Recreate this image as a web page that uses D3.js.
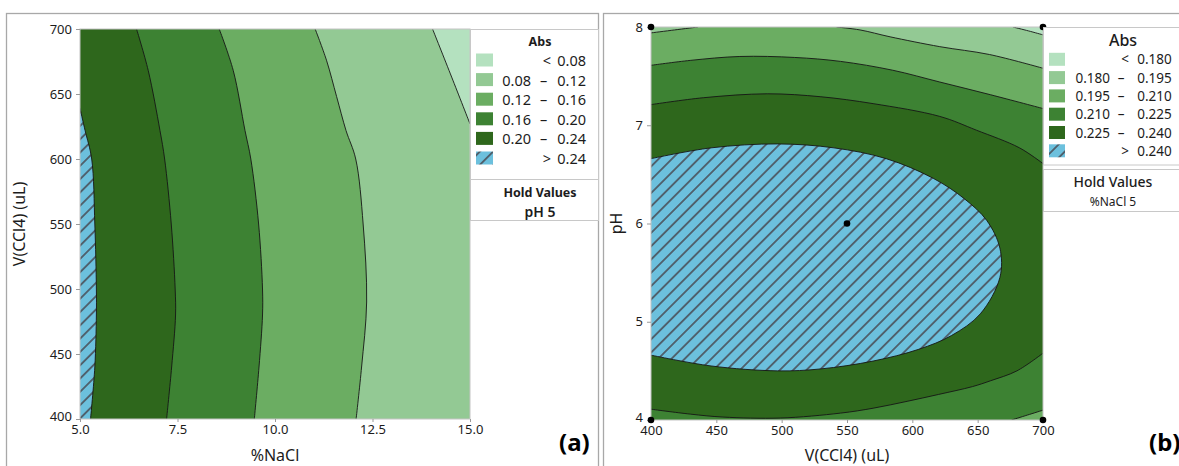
<!DOCTYPE html>
<html>
<head>
<meta charset="utf-8">
<script src="https://cdn.jsdelivr.net/npm/d3@7"></script>
<style>
  body { margin: 0; background: #fff; }
  svg text { font-family: "Noto Sans", sans-serif; fill: #1c1c1c; }
</style>
</head>
<body>
<svg id="chart" width="1179" height="466"></svg>
<script>
// band colours, lowest Abs band first, last one is the hatched top band
const bandColors = ["#b4e1bf", "#93c994", "#6bad62", "#3d8233", "#2e671c", "#6cc0dd"];

// ---- panel (a): %NaCl vs V(CCl4), pH held at 5
const aXDomain = [5, 15];
const aYDomain = [400, 700];
const aXTicks = [5, 7.5, 10, 12.5, 15];
const aYTicks = [400, 450, 500, 550, 600, 650, 700];
const aLevels = ["0.08", "0.12", "0.16", "0.20", "0.24"];
// contour lines [%NaCl, V] from top to bottom
const aC024 = [[5.0, 639], [5.13, 622], [5.30, 600], [5.38, 550], [5.42, 500], [5.42, 480], [5.38, 440], [5.27, 400]];
const aC020 = [[6.45, 700], [6.75, 668], [7.05, 622], [7.17, 600], [7.34, 550], [7.44, 500], [7.45, 480], [7.35, 440], [7.22, 400]];
const aC016 = [[8.57, 700], [8.93, 668], [9.23, 622], [9.38, 600], [9.58, 550], [9.68, 500], [9.68, 480], [9.59, 440], [9.47, 400]];
const aC012 = [[11.03, 700], [11.32, 676], [11.58, 648], [11.82, 622], [12.07, 600], [12.26, 550], [12.35, 490], [12.22, 440], [12.08, 400]];
const aC008 = [[14.04, 700], [14.53, 663], [15.0, 627]];

// ---- panel (b): V(CCl4) vs pH, %NaCl held at 5
const bXDomain = [400, 700];
const bYDomain = [4, 8];
const bXTicks = [400, 450, 500, 550, 600, 650, 700];
const bYTicks = [4, 5, 6, 7, 8];
const bLevels = ["0.180", "0.195", "0.210", "0.225", "0.240"];
const bDesign = [[400, 8], [700, 8], [400, 4], [700, 4], [550, 6]];
const bC180 = [[677, 8], [689, 7.96], [700, 7.92]];
const bC195a = [[400, 7.94], [418, 7.97], [436, 8]];
const bC195b = [[542, 8], [560, 7.97], [583, 7.90], [621, 7.80], [659, 7.72], [700, 7.58]];
const bC210top = [[400, 7.61], [430, 7.66], [468, 7.70], [510, 7.69], [545, 7.65], [585, 7.56], [621, 7.44], [660, 7.31], [700, 7.17]];
const bC210low = [[700, 4.10], [688, 4.05], [676, 4.0]];
const bC225top = [[400, 7.21], [440, 7.28], [489, 7.32], [530, 7.29], [570, 7.22], [621, 7.09], [649, 6.95], [682, 6.77], [700, 6.61]];
const bC225low = [[700, 4.68], [680, 4.50], [660, 4.40], [646, 4.34], [620, 4.26], [596, 4.19], [570, 4.12], [545, 4.07], [499, 4.02], [455, 4.03], [430, 4.06], [400, 4.11]];
const bC240 = [[400, 6.66], [446, 6.77], [497, 6.81], [540, 6.77], [580, 6.66], [616, 6.46], [640, 6.25], [657, 6.03], [667, 5.75],
               [667, 5.45], [652, 5.08], [630, 4.86], [605, 4.72], [570, 4.60], [530, 4.52], [497, 4.50], [446, 4.55], [400, 4.66]];

const svg = d3.select("#chart");
const defs = svg.append("defs");

// hatch for the top band
const hatch = defs.append("pattern")
  .attr("id", "hatch")
  .attr("patternUnits", "userSpaceOnUse")
  .attr("width", 9.4)
  .attr("height", 9.4)
  .attr("patternTransform", "rotate(45)");
hatch.append("rect").attr("width", 9.4).attr("height", 9.4).attr("fill", bandColors[5]);
hatch.append("line").attr("x1", 4.7).attr("y1", 0).attr("x2", 4.7).attr("y2", 9.4)
  .attr("stroke", "#4a4f58").attr("stroke-width", 1.6);

function fillOf(band) {
  return band === 5 ? "url(#hatch)" : bandColors[band];
}

// builds a closed ring: long pieces are smoothed contour lines, short ones are straight joins
function ringPath(segs, x, y) {
  const curve = d3.line().x(d => x(d[0])).y(d => y(d[1])).curve(d3.curveCatmullRom.alpha(0.5));
  let s = "";
  segs.forEach((seg, i) => {
    let p = seg.length > 2 ? curve(seg) : seg.map(d => "L" + x(d[0]) + "," + y(d[1])).join("");
    if (i === 0) p = "M" + p.slice(1);
    else p = "L" + p.slice(1);
    s += p;
  });
  return s + "Z";
}

// panel frames
svg.append("rect").attr("x", 6.5).attr("y", 13.5).attr("width", 592).attr("height", 470)
  .attr("fill", "none").attr("stroke", "#a8a8a8").attr("stroke-width", 1.3);
svg.append("rect").attr("x", 603.5).attr("y", 13.5).attr("width", 620).attr("height", 470)
  .attr("fill", "none").attr("stroke", "#a8a8a8").attr("stroke-width", 1.3);

function drawPanel(opt) {
  const x = d3.scaleLinear().domain(opt.xDomain).range(opt.xRange);
  const y = d3.scaleLinear().domain(opt.yDomain).range(opt.yRange);
  const g = svg.append("g");

  defs.append("clipPath").attr("id", opt.id + "-clip")
    .append("rect")
    .attr("x", opt.xRange[0]).attr("y", opt.yRange[1])
    .attr("width", opt.xRange[1] - opt.xRange[0])
    .attr("height", opt.yRange[0] - opt.yRange[1]);

  const plot = g.append("g").attr("clip-path", "url(#" + opt.id + "-clip)");
  plot.append("rect")
    .attr("x", opt.xRange[0]).attr("y", opt.yRange[1])
    .attr("width", opt.xRange[1] - opt.xRange[0])
    .attr("height", opt.yRange[0] - opt.yRange[1])
    .attr("fill", fillOf(opt.baseBand));

  plot.selectAll("path.band")
    .data(opt.fills)
    .enter()
    .append("path")
    .attr("class", "band")
    .attr("d", d => ringPath(d.segs, x, y))
    .attr("fill", d => fillOf(d.band));

  const line = d3.line().x(d => x(d[0])).y(d => y(d[1])).curve(d3.curveCatmullRom.alpha(0.5));
  plot.selectAll("path.contour")
    .data(opt.lines)
    .enter()
    .append("path")
    .attr("class", "contour")
    .attr("d", line)
    .attr("fill", "none")
    .attr("stroke", "#151515")
    .attr("stroke-width", 0.9);

  // plot border
  g.append("rect")
    .attr("x", opt.xRange[0]).attr("y", opt.yRange[1])
    .attr("width", opt.xRange[1] - opt.xRange[0])
    .attr("height", opt.yRange[0] - opt.yRange[1])
    .attr("fill", "none").attr("stroke", "#c4c4c4").attr("stroke-width", 1);

  const xAxis = g.append("g")
    .attr("transform", "translate(0," + opt.yRange[0] + ")")
    .call(d3.axisBottom(x).tickValues(opt.xTicks).tickFormat(opt.xFormat).tickSize(3).tickPadding(3));
  const yAxis = g.append("g")
    .attr("transform", "translate(" + opt.xRange[0] + ",0)")
    .call(d3.axisLeft(y).tickValues(opt.yTicks).tickFormat(opt.yFormat).tickSize(4).tickPadding(4));
  [xAxis, yAxis].forEach(a => {
    a.select(".domain").remove();
    a.selectAll(".tick line").attr("stroke", "#9a9a9a");
    a.selectAll(".tick text").style("font-size", "13px").style("fill", "#1c1c1c");
  });
  // lowest y label sits just above the x labels, as in the original
  yAxis.selectAll(".tick text").filter(d => d === opt.yDomain[0]).attr("dy", "0.12em");

  // design points
  g.selectAll("circle.pt")
    .data(opt.points || [])
    .enter()
    .append("circle")
    .attr("cx", d => x(d[0]))
    .attr("cy", d => y(d[1]))
    .attr("r", 3.3)
    .attr("fill", "#000");

  g.append("text")
    .attr("x", (opt.xRange[0] + opt.xRange[1]) / 2)
    .attr("y", 461)
    .attr("text-anchor", "middle")
    .style("font-size", "16px")
    .text(opt.xTitle);
  g.append("text")
    .attr("transform", "translate(" + opt.yTitleX + "," + ((opt.yRange[0] + opt.yRange[1]) / 2) + ") rotate(-90)")
    .attr("text-anchor", "middle")
    .style("font-size", "16px")
    .text(opt.yTitle);

  g.append("text")
    .attr("x", opt.tagX)
    .attr("y", 451)
    .style("font-size", "24px")
    .style("font-weight", "bold")
    .style("fill", "#000")
    .text(opt.tag);
}

function drawLegend(opt) {
  const g = svg.append("g");
  const L = opt.levels;
  const rows = [["<", L[0]]];
  for (let i = 1; i < L.length; i++) rows.push([L[i - 1], L[i]]);
  rows.push([">", L[L.length - 1]]);

  g.append("rect").attr("x", opt.x).attr("y", opt.y).attr("width", opt.w).attr("height", opt.h)
    .attr("fill", "#fff").attr("stroke", "#c8c8c8");
  if (opt.sep) {
    g.append("line").attr("x1", opt.x).attr("x2", opt.x + opt.w).attr("y1", opt.sep).attr("y2", opt.sep)
      .attr("stroke", "#c8c8c8");
  } else {
    g.append("rect").attr("x", opt.x).attr("y", opt.holdY).attr("width", opt.w).attr("height", opt.holdH)
      .attr("fill", "#fff").attr("stroke", "#c8c8c8");
  }

  g.append("text").attr("x", opt.titleX).attr("y", opt.titleY)
    .attr("text-anchor", "middle").attr("dominant-baseline", "central")
    .style("font-size", opt.titleSize).style("font-weight", opt.titleWeight)
    .text("Abs");

  rows.forEach((r, i) => {
    const yc = opt.row0 + i * opt.rowH;
    g.append("rect").attr("x", opt.swX).attr("y", yc - 6.5).attr("width", opt.swW).attr("height", 13)
      .attr("fill", fillOf(i));
    const t = g.append("g").style("font-size", opt.fontSize);
    if (r[0] === "<" || r[0] === ">") {
      t.append("text").attr("x", opt.signX).attr("y", yc).attr("text-anchor", "middle")
        .attr("dominant-baseline", "central").text(r[0]);
    } else {
      t.append("text").attr("x", opt.loX).attr("y", yc).attr("text-anchor", "end")
        .attr("dominant-baseline", "central").text(r[0]);
      t.append("text").attr("x", opt.dashX).attr("y", yc).attr("text-anchor", "middle")
        .attr("dominant-baseline", "central").text("–");
    }
    t.append("text").attr("x", opt.hiX).attr("y", yc).attr("text-anchor", "end")
      .attr("dominant-baseline", "central").text(r[1]);
  });

  g.append("text").attr("x", opt.holdX).attr("y", opt.holdTitleY)
    .attr("text-anchor", "middle").attr("dominant-baseline", "central")
    .style("font-size", opt.holdSize).style("font-weight", opt.holdWeight)
    .text("Hold Values");
  g.append("text").attr("x", opt.holdX).attr("y", opt.holdValY)
    .attr("text-anchor", "middle").attr("dominant-baseline", "central")
    .style("font-size", opt.holdValSize).style("font-weight", opt.holdValWeight)
    .text(opt.holdText);
}

const aX1 = aXDomain[1], aY0 = aYDomain[0], aY1 = aYDomain[1];
drawPanel({
  id: "a",
  xDomain: aXDomain, yDomain: aYDomain,
  xRange: [80, 470], yRange: [419, 29],
  xTicks: aXTicks, yTicks: aYTicks,
  xFormat: d3.format(".1f"), yFormat: d3.format("d"),
  baseBand: 5,
  fills: [
    { band: 4, segs: [[[aXDomain[0], aY1]], aC024, [[aX1, aY0], [aX1, aY1]]] },
    { band: 3, segs: [aC020, [[aX1, aY0], [aX1, aY1]]] },
    { band: 2, segs: [aC016, [[aX1, aY0], [aX1, aY1]]] },
    { band: 1, segs: [aC012, [[aX1, aY0], [aX1, aY1]]] },
    { band: 0, segs: [aC008, [[aX1, aY1]]] }
  ],
  lines: [aC024, aC020, aC016, aC012, aC008],
  xTitle: "%NaCl", yTitle: "V(CCl4) (uL)", yTitleX: 25,
  tag: "(a)", tagX: 559
});

const bX0 = bXDomain[0], bX1 = bXDomain[1], bY0 = bYDomain[0], bY1 = bYDomain[1];
drawPanel({
  id: "b",
  xDomain: bXDomain, yDomain: bYDomain,
  xRange: [651, 1043], yRange: [420, 27],
  xTicks: bXTicks, yTicks: bYTicks,
  xFormat: d3.format("d"), yFormat: d3.format("d"),
  baseBand: 0,
  fills: [
    { band: 1, segs: [[[bX0, bY1]], bC180, [[bX1, bY0], [bX0, bY0]]] },
    { band: 2, segs: [bC195a, bC195b, [[bX1, bY0], [bX0, bY0]]] },
    { band: 3, segs: [bC210top, bC210low, [[bX0, bY0]]] },
    { band: 4, segs: [bC225top, bC225low] },
    { band: 5, segs: [bC240] }
  ],
  lines: [bC180, bC195a, bC195b, bC210top, bC210low, bC225top, bC225low, bC240],
  points: bDesign,
  xTitle: "V(CCl4) (uL)", yTitle: "pH", yTitleX: 622,
  tag: "(b)", tagX: 1149
});

drawLegend({
  levels: aLevels,
  x: 470.5, y: 29.5, w: 128, h: 191, sep: 179.5,
  titleX: 540, titleY: 41, titleSize: "12.5px", titleWeight: "bold",
  row0: 60, rowH: 19.6, swX: 476, swW: 17,
  fontSize: "14.5px", signX: 547, loX: 531, dashX: 543.5, hiX: 586,
  holdX: 540, holdTitleY: 192, holdSize: "12.5px", holdWeight: "bold",
  holdValY: 211, holdValSize: "14px", holdValWeight: "600", holdText: "pH  5"
});

drawLegend({
  levels: bLevels,
  x: 1043.5, y: 27.5, w: 200, h: 137.5,
  holdY: 169.5, holdH: 42,
  titleX: 1123, titleY: 40, titleSize: "16px", titleWeight: "500",
  row0: 59.3, rowH: 18.3, swX: 1049, swW: 16,
  fontSize: "13.5px", signX: 1125, loX: 1110, dashX: 1121, hiX: 1171.7,
  holdX: 1113, holdTitleY: 181.5, holdSize: "14px", holdWeight: "500",
  holdValY: 201.5, holdValSize: "12px", holdValWeight: "normal", holdText: "%NaCl  5"
});
</script>
</body>
</html>
